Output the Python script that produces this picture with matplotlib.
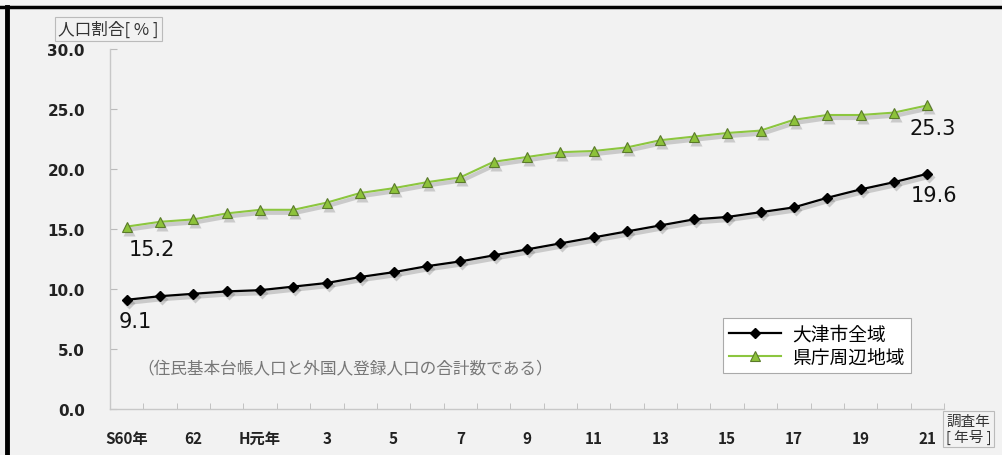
import matplotlib
matplotlib.use('Agg')
import matplotlib.pyplot as plt
from matplotlib.transforms import offset_copy
import numpy as np

plt.rcParams['font.family'] = ['Noto Sans CJK JP', 'DejaVu Sans']

# 1. data
years = ['S60年', '61', '62', '63', 'H元年', '2', '3', '4', '5', '6', '7', '8',
         '9', '10', '11', '12', '13', '14', '15', '16', '17', '18', '19', '20', '21']
tick_labels = ['S60年', '', '62', '', 'H元年', '', '3', '', '5', '', '7', '',
               '9', '', '11', '', '13', '', '15', '', '17', '', '19', '', '21']
otsu_all = [9.1, 9.4, 9.6, 9.8, 9.9, 10.2, 10.5, 11.0, 11.4, 11.9, 12.3, 12.8,
            13.3, 13.8, 14.3, 14.8, 15.3, 15.8, 16.0, 16.4, 16.8, 17.6, 18.3, 18.9, 19.6]
kencho_area = [15.2, 15.6, 15.8, 16.3, 16.6, 16.6, 17.2, 18.0, 18.4, 18.9, 19.3, 20.6,
               21.0, 21.4, 21.5, 21.8, 22.4, 22.7, 23.0, 23.2, 24.1, 24.5, 24.5, 24.7, 25.3]
series_names = ['大津市全域', '県庁周辺地域']

BG = '#f2f2f2'
GREEN = '#8cc63f'

# 2. figure
fig = plt.figure(figsize=(10.02, 4.56), dpi=100, facecolor=BG)
ax = fig.add_axes([110 / 1002, 46 / 456, 834 / 1002, 360 / 456])
ax.set_facecolor(BG)

x = np.arange(len(years))

# drop shadows under the lines
sh = offset_copy(ax.transData, fig=fig, x=2, y=-3, units='dots')
for vals, m, ms in [(otsu_all, 'D', 6), (kencho_area, '^', 8)]:
    ax.plot(x, vals, color='#555555', alpha=0.25, lw=3, marker=m, ms=ms, mec='none',
            transform=sh, zorder=2)

ax.plot(x, otsu_all, color='black', lw=1.6, marker='D', ms=5.5, mfc='black', mec='black',
        label=series_names[0], zorder=3)
ax.plot(x, kencho_area, color=GREEN, lw=1.5, marker='^', ms=7, mfc='#8dc23a', mec='#5a7a2a',
        mew=0.8, label=series_names[1], zorder=3)

ax.set_xlim(-0.5, len(years) - 0.5)
ax.set_ylim(0, 30)
ax.set_yticks(np.arange(0, 30.1, 5))
ax.set_yticklabels(['%.1f' % v for v in np.arange(0, 30.1, 5)], fontsize=11,
                   fontweight='bold', family=['DejaVu Sans'], color='#222222')
ax.set_xticks(x)
ax.set_xticklabels(tick_labels, fontsize=11, fontweight='bold', color='#222222')
ax.set_xticks(np.arange(-0.5, len(years)), minor=True)
ax.tick_params(axis='x', which='major', length=0, pad=15)
ax.tick_params(axis='x', which='minor', length=4, direction='in', color='#bbbbbb')
ax.tick_params(axis='y', which='major', length=5, direction='in', color='#bbbbbb', pad=18)

for s in ['top', 'right']:
    ax.spines[s].set_visible(False)
for s in ['left', 'bottom']:
    ax.spines[s].set_color('#c8c8c8')
    ax.spines[s].set_linewidth(1)

# first / last values
lbl = dict(textcoords='offset pixels', fontsize=15, ha='center', va='center',
           color='#111111', family=['DejaVu Sans'])
ax.annotate('%.1f' % otsu_all[0], (x[0], otsu_all[0]), xytext=(9, -21), **lbl)
ax.annotate('%.1f' % kencho_area[0], (x[0], kencho_area[0]), xytext=(25, -22), **lbl)
ax.annotate('%.1f' % kencho_area[-1], (x[-1], kencho_area[-1]), xytext=(5, -23), **lbl)
ax.annotate('%.1f' % otsu_all[-1], (x[-1], otsu_all[-1]), xytext=(7, -21), **lbl)

leg = ax.legend(loc='upper left', bbox_to_anchor=(723 / 1002, 137 / 456),
                bbox_transform=fig.transFigure, fontsize=13.5, frameon=True,
                fancybox=False, edgecolor='#aaaaaa', facecolor='white', framealpha=1,
                handlelength=2.8, borderpad=0.3, labelspacing=0.1, handletextpad=0.6,
                borderaxespad=0)
leg.get_frame().set_linewidth(0.8)

fig.text(137 / 1002, 1 - 370 / 456, '（住民基本台帳人口と外国人登録人口の合計数である）',
         fontsize=12, color='#777777', va='center', ha='left')

box = dict(boxstyle='square,pad=0.2', fc=BG, ec='#bbbbbb', lw=0.8)
fig.text(58 / 1002, 1 - 30 / 456, '人口割合[ % ]', fontsize=12, color='#333333',
         va='center', ha='left', bbox=box)
fig.text(946 / 1002, 1 - 430 / 456, '調査年\n[ 年号 ]', fontsize=10.5, color='#333333',
         va='center', ha='left', linespacing=1.1, bbox=box)

# outer frame (top and left edges)
fig.add_artist(plt.Line2D([0, 1], [1 - 8 / 456, 1 - 8 / 456], transform=fig.transFigure,
                          color='black', lw=2.5))
fig.add_artist(plt.Line2D([7 / 1002, 7 / 1002], [0, 1 - 8 / 456], transform=fig.transFigure,
                          color='black', lw=3.5))

fig.savefig('out.png', dpi=100, facecolor=BG)
